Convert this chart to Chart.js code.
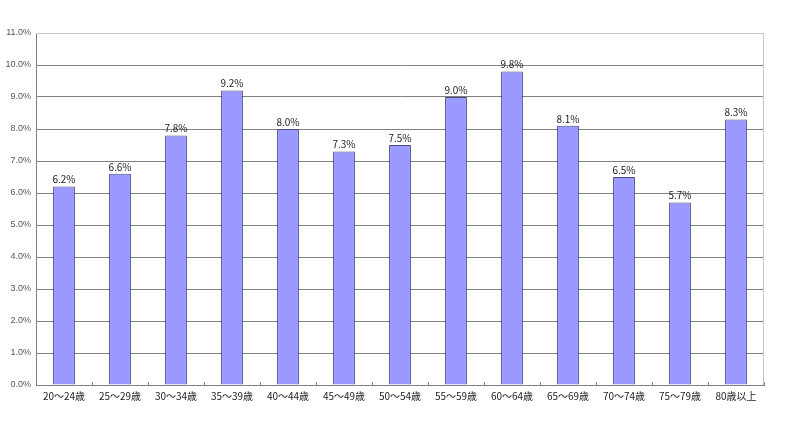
<!DOCTYPE html>
<html>
<head>
<meta charset="utf-8">
<script src="https://cdn.jsdelivr.net/npm/chart.js@4/dist/chart.umd.min.js"></script>
<style>
html,body{margin:0;padding:0;background:#fff;overflow:hidden;}
</style>
</head>
<body>
<canvas id="ageChart" width="800" height="421"></canvas>
<script>
// age groups and share (%)
let ageLabels = ["20～24歳","25～29歳","30～34歳","35～39歳","40～44歳","45～49歳","50～54歳","55～59歳","60～64歳","65～69歳","70～74歳","75～79歳","80歳以上"]
let shares = [6.2,6.6,7.8,9.2,8.0,7.3,7.5,9.0,9.8,8.1,6.5,5.7,8.3]

// value labels on top of bars
let barLabels = {
  id:"barLabels",
  afterDatasetsDraw(chart){
    let ctx = chart.ctx
    let meta = chart.getDatasetMeta(0)
    ctx.save()
    ctx.font = "10px 'Noto Sans CJK JP', sans-serif"
    ctx.fillStyle = "#222"
    ctx.textAlign = "center"
    ctx.textBaseline = "bottom"
    meta.data.forEach((bar,i)=>{
      ctx.fillText(shares[i].toFixed(1)+"%", bar.x, bar.y-2)
    })
    ctx.restore()
  }
}

new Chart(document.getElementById("ageChart"),{
  type:"bar",
  data:{
    labels:ageLabels,
    datasets:[{
      data:shares,
      backgroundColor:"#9999ff",
      borderColor:"#4a4a7a",
      borderWidth:1,
      barPercentage:0.39,
      categoryPercentage:1.0
    }]
  },
  options:{
    responsive:false,
    animation:false,
    devicePixelRatio:1,
    layout:{padding:{left:0,right:36,top:33,bottom:0}},
    plugins:{legend:{display:false},tooltip:{enabled:false}},
    scales:{
      x:{
        grid:{display:true,drawOnChartArea:false,color:"#808080",tickLength:-3,offset:true},
        border:{color:"#808080"},
        ticks:{color:"#222",font:{size:10,family:"'Noto Sans CJK JP', sans-serif"},maxRotation:0,autoSkip:false,padding:8},
        afterFit(scale){ scale.height = 36 }
      },
      y:{
        min:0,max:11,
        ticks:{stepSize:1,autoSkip:false,color:"#555",font:{size:9,family:"'Liberation Sans', sans-serif"},padding:5,callback:v=>v.toFixed(1)+"%"},
        grid:{color:"#808080",drawTicks:false},
        border:{color:"#808080"},
        afterFit(scale){ scale.width = 36 }
      }
    }
  },
  plugins:[barLabels,{
    id:"frame",
    afterDraw(chart){
      let a = chart.chartArea, ctx = chart.ctx
      ctx.save()
      ctx.strokeStyle = "#c8c8c8"
      ctx.lineWidth = 1
      ctx.beginPath()
      ctx.moveTo(a.left, a.top+0.5)
      ctx.lineTo(a.right-0.5, a.top+0.5)
      ctx.lineTo(a.right-0.5, a.bottom)
      ctx.stroke()
      ctx.restore()
    }
  }]
})
</script>
</body>
</html>
